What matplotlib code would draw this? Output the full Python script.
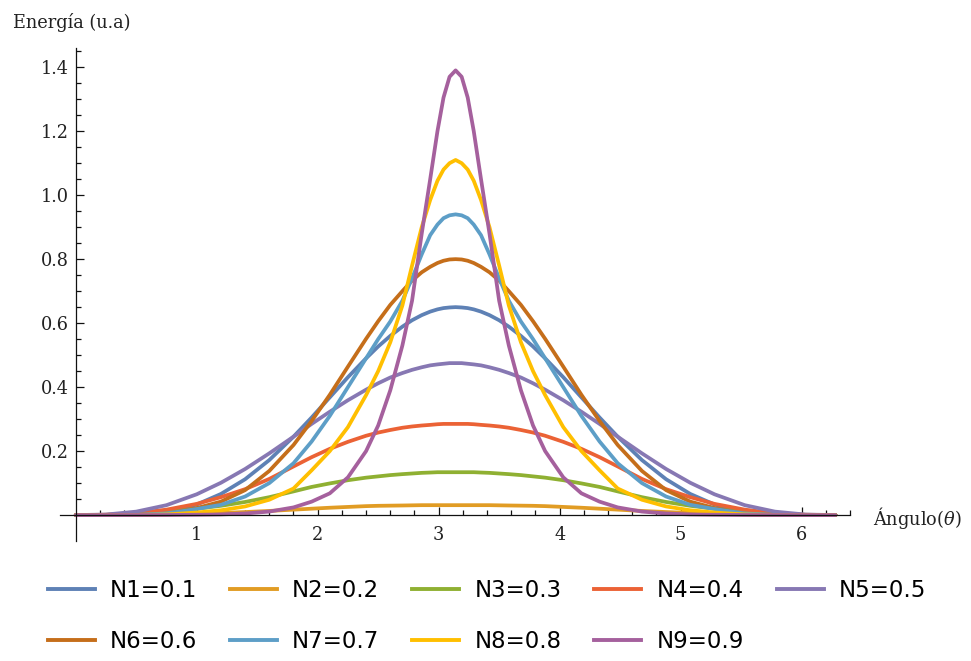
import matplotlib
matplotlib.use("Agg")
import matplotlib.pyplot as plt
from matplotlib.lines import Line2D

plt.rcParams["mathtext.fontset"] = "dejavuserif"

# angle samples (rad), denser around the peak at pi
theta = [0, 0.25, 0.5, 0.75, 1.0, 1.2, 1.4, 1.6, 1.8, 1.95, 2.1, 2.25, 2.4, 2.5, 2.6, 2.7, 2.78, 2.86,
         2.93, 2.99, 3.04, 3.09, 3.14,
         3.19, 3.24, 3.29, 3.35, 3.42, 3.50, 3.58, 3.68, 3.78, 3.88, 4.03, 4.18, 4.33, 4.48, 4.68, 4.88,
         5.08, 5.28, 5.53, 5.78, 6.03, 6.28]

n1 = [0, 0.0002, 0.0024, 0.012, 0.033, 0.066, 0.112, 0.172, 0.245, 0.305, 0.368, 0.431, 0.49, 0.527, 0.56, 0.589,
      0.609, 0.625, 0.636, 0.643, 0.647, 0.649, 0.65,
      0.649, 0.647, 0.643, 0.636, 0.625, 0.609, 0.589, 0.56, 0.527, 0.49, 0.431, 0.368, 0.305, 0.245, 0.172, 0.112,
      0.066, 0.033, 0.012, 0.0024, 0.0002, 0]
n2 = [0, 0.0001, 0.0007, 0.002, 0.004, 0.0065, 0.0095, 0.013, 0.017, 0.020, 0.023, 0.0255, 0.028, 0.029, 0.0295,
      0.030, 0.0305, 0.031, 0.031, 0.031, 0.031, 0.031, 0.031,
      0.031, 0.031, 0.031, 0.031, 0.031, 0.0305, 0.030, 0.0295, 0.029, 0.028, 0.0255, 0.023, 0.020, 0.017, 0.013,
      0.0095, 0.0065, 0.004, 0.002, 0.0007, 0.0001, 0]
n3 = [0, 0.0008, 0.004, 0.010, 0.020, 0.029, 0.041, 0.056, 0.074, 0.088, 0.099, 0.109, 0.117, 0.121, 0.125, 0.128,
      0.130, 0.132, 0.133, 0.134, 0.134, 0.134, 0.134,
      0.134, 0.134, 0.134, 0.133, 0.132, 0.130, 0.128, 0.125, 0.121, 0.117, 0.109, 0.099, 0.088, 0.074, 0.056, 0.041,
      0.029, 0.020, 0.010, 0.004, 0.0008, 0]
n4 = [0, 0.001, 0.006, 0.017, 0.035, 0.056, 0.081, 0.113, 0.152, 0.181, 0.207, 0.229, 0.248, 0.258, 0.266, 0.273,
      0.277, 0.280, 0.282, 0.284, 0.285, 0.285, 0.285,
      0.285, 0.285, 0.284, 0.282, 0.280, 0.277, 0.273, 0.266, 0.258, 0.248, 0.229, 0.207, 0.181, 0.152, 0.113, 0.081,
      0.056, 0.035, 0.017, 0.006, 0.001, 0]
n5 = [0, 0.0017, 0.0108, 0.031, 0.065, 0.101, 0.144, 0.193, 0.245, 0.285, 0.323, 0.359, 0.392, 0.412, 0.430, 0.444,
      0.454, 0.462, 0.468, 0.471, 0.473, 0.475, 0.475,
      0.475, 0.473, 0.471, 0.468, 0.462, 0.454, 0.444, 0.430, 0.412, 0.392, 0.359, 0.323, 0.285, 0.245, 0.193, 0.144,
      0.101, 0.065, 0.031, 0.0108, 0.0017, 0]
n6 = [0, 0.0, 0.0005, 0.004, 0.022, 0.042, 0.078, 0.138, 0.219, 0.294, 0.376, 0.464, 0.551, 0.606, 0.657, 0.70,
      0.733, 0.759, 0.776, 0.788, 0.795, 0.799, 0.80,
      0.799, 0.795, 0.788, 0.776, 0.759, 0.733, 0.70, 0.657, 0.606, 0.551, 0.464, 0.376, 0.294, 0.219, 0.138, 0.078,
      0.042, 0.022, 0.004, 0.0005, 0.0, 0]
n7 = [0, 0.0, 0.001, 0.005, 0.019, 0.032, 0.058, 0.10, 0.162, 0.23, 0.31, 0.40, 0.49, 0.55, 0.605, 0.67,
      0.74, 0.815, 0.875, 0.908, 0.928, 0.937, 0.94,
      0.937, 0.928, 0.908, 0.875, 0.815, 0.74, 0.67, 0.605, 0.55, 0.49, 0.40, 0.31, 0.23, 0.162, 0.10, 0.058,
      0.032, 0.019, 0.005, 0.001, 0.0, 0]
n8 = [0, 0.0, 0.0003, 0.002, 0.008, 0.015, 0.027, 0.048, 0.083, 0.14, 0.20, 0.275, 0.375, 0.45, 0.54, 0.655,
      0.78, 0.90, 0.985, 1.045, 1.08, 1.10, 1.11,
      1.10, 1.08, 1.045, 0.985, 0.90, 0.78, 0.655, 0.54, 0.45, 0.375, 0.275, 0.20, 0.14, 0.083, 0.048, 0.027,
      0.015, 0.008, 0.002, 0.0003, 0.0, 0]
n9 = [0, 0.0, 0.0001, 0.0003, 0.001, 0.002, 0.005, 0.011, 0.024, 0.042, 0.068, 0.118, 0.20, 0.28, 0.39, 0.53,
      0.67, 0.88, 1.05, 1.20, 1.305, 1.37, 1.39,
      1.37, 1.305, 1.20, 1.05, 0.88, 0.67, 0.53, 0.39, 0.28, 0.20, 0.118, 0.068, 0.042, 0.024, 0.011, 0.005,
      0.002, 0.001, 0.0003, 0.0001, 0.0, 0]

series = [n1, n2, n3, n4, n5, n6, n7, n8, n9]
labels = ["N1=0.1", "N2=0.2", "N3=0.3", "N4=0.4", "N5=0.5",
          "N6=0.6", "N7=0.7", "N8=0.8", "N9=0.9"]
colors = ["#5E81B5", "#E19C24", "#8FB032", "#EB6235", "#8778B3",
          "#C56E1A", "#5D9EC7", "#FFBF00", "#A5609D"]

x_major = [1, 2, 3, 4, 5, 6]
x_minor = [v / 5 for v in range(1, 33) if v % 5 != 0]
y_major = [0.2, 0.4, 0.6, 0.8, 1.0, 1.2, 1.4]
y_minor = [v / 20 for v in range(1, 30) if v % 4 != 0]

fig = plt.figure(figsize=(9.71, 6.61), dpi=100)
ax = fig.add_axes([60 / 971, 120 / 661, 790 / 971, 493 / 661])

for y, c, lab in zip(series, colors, labels):
    ax.plot(theta, y, color=c, lw=2.7, label=lab, solid_capstyle="round", solid_joinstyle="round")

ax.set_xlim(-0.13, 6.40)
ax.set_ylim(-0.081, 1.46)

# axes cross at the origin, no frame
for side in ["top", "right"]:
    ax.spines[side].set_visible(False)
ax.spines["left"].set_position(("data", 0))
ax.spines["bottom"].set_position(("data", 0))
for side in ["left", "bottom"]:
    ax.spines[side].set_linewidth(0.9)
    ax.spines[side].set_color("#111111")

ax.set_xticks(x_major)
ax.set_xticks(x_minor, minor=True)
ax.set_yticks(y_major)
ax.set_yticks(y_minor, minor=True)
ax.set_xticklabels([str(v) for v in x_major])
ax.set_yticklabels([f"{v:.1f}" for v in y_major])

ax.tick_params(which="both", direction="in", color="#111111", width=0.9)
ax.tick_params(which="major", length=5.5)
ax.tick_params(which="minor", length=3.3)
ax.tick_params(axis="x", which="major", pad=8.0)
ax.tick_params(axis="y", which="major", pad=5.0)
for t in ax.get_xticklabels() + ax.get_yticklabels():
    t.set_family("DejaVu Serif")
    t.set_fontsize(12.8)
    t.set_color("#222222")

fig.text(12.7 / 971, 1 - 23 / 661, "Energía (u.a)", family="DejaVu Serif", size=12.8,
         ha="left", va="center", color="#222222")
fig.text(873 / 971, 1 - 518 / 661, "Ángulo($\\theta$)", family="DejaVu Serif", size=12.8,
         ha="left", va="center", color="#222222")

# legend fills column by column, so interleave the two rows
handles = [Line2D([0], [0], color=c, lw=2.8) for c in colors]
order = [0, 5, 1, 6, 2, 7, 3, 8, 4]
fig.legend([handles[i] for i in order], [labels[i] for i in order],
           ncol=5, loc="upper left", bbox_to_anchor=(48 / 971, 1 - 579 / 661),
           frameon=False, prop={"family": "DejaVu Sans", "size": 16.5},
           handlelength=2.05, handletextpad=0.65, columnspacing=1.44,
           labelspacing=1.22, borderpad=0, borderaxespad=0)

fig.savefig("out.png", dpi=100)
